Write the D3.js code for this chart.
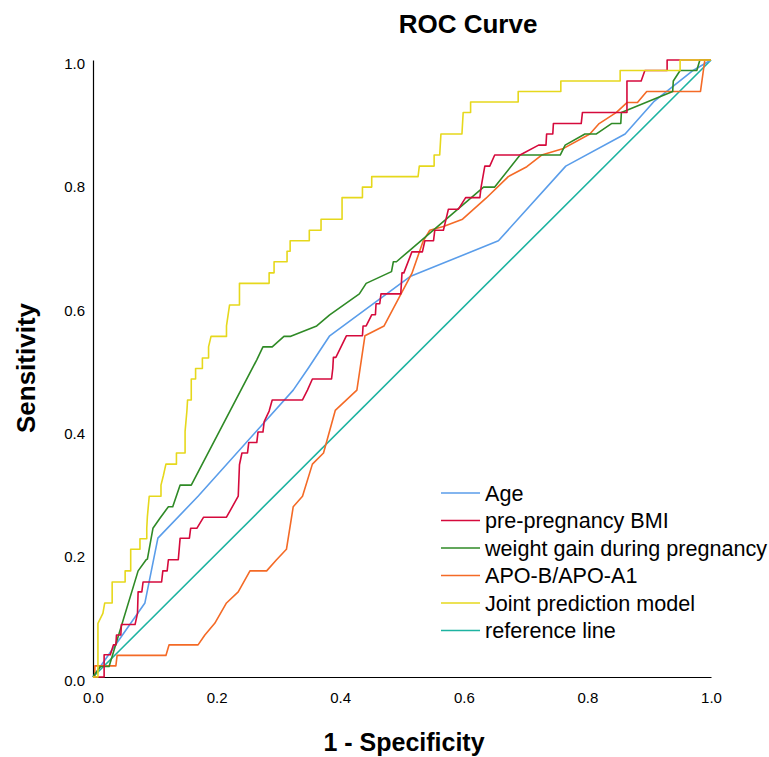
<!DOCTYPE html>
<html>
<head>
<meta charset="utf-8">
<script src="https://cdn.jsdelivr.net/npm/d3@7/dist/d3.min.js"></script>
<style>
  html, body { margin: 0; padding: 0; background: #fff; }
  svg { display: block; font-family: "Liberation Sans", Arial, Helvetica, sans-serif; }
</style>
</head>
<body>
<svg id="chart" width="769" height="757"></svg>
<script>
// ---- Data (1 - Specificity, Sensitivity) ----
const seriesNames = ["Age", "pre-pregnancy BMI", "weight gain during pregnancy", "APO-B/APO-A1", "Joint prediction model", "reference line"];
const seriesColors = ["#5a9dea", "#d50a3c", "#2f8a26", "#f46a26", "#e6d81c", "#1db3a1"];

const ageFpr = [0, 0.084, 0.105, 0.170, 0.324, 0.348, 0.383, 0.513, 0.656, 0.765, 0.861, 0.907, 0.971, 1];
const ageTpr = [0, 0.120, 0.225, 0.293, 0.465, 0.500, 0.553, 0.649, 0.707, 0.828, 0.880, 0.932, 0.983, 1];

const bmiFpr = [0, 0.018, 0.018, 0.028, 0.033, 0.037, 0.038, 0.045, 0.046, 0.068, 0.072, 0.073, 0.079, 0.081, 0.111, 0.113, 0.120, 0.122, 0.138, 0.141, 0.156, 0.158, 0.168, 0.179, 0.216, 0.235, 0.237, 0.241, 0.250, 0.252, 0.265, 0.267, 0.275, 0.277, 0.285, 0.290, 0.339, 0.347, 0.355, 0.386, 0.388, 0.389, 0.393, 0.410, 0.436, 0.437, 0.442, 0.451, 0.457, 0.458, 0.464, 0.466, 0.498, 0.500, 0.503, 0.516, 0.533, 0.537, 0.551, 0.553, 0.567, 0.575, 0.591, 0.603, 0.626, 0.628, 0.634, 0.642, 0.650, 0.691, 0.721, 0.733, 0.734, 0.744, 0.745, 0.790, 0.792, 0.864, 0.864, 0.887, 0.893, 0.929, 0.929, 1];
const bmiTpr = [0, 0, 0.036, 0.036, 0.052, 0.052, 0.068, 0.068, 0.085, 0.085, 0.103, 0.138, 0.138, 0.154, 0.154, 0.172, 0.172, 0.190, 0.190, 0.225, 0.225, 0.241, 0.241, 0.259, 0.259, 0.293, 0.344, 0.363, 0.363, 0.380, 0.380, 0.397, 0.397, 0.414, 0.431, 0.449, 0.449, 0.465, 0.483, 0.483, 0.500, 0.518, 0.518, 0.553, 0.553, 0.569, 0.569, 0.587, 0.587, 0.605, 0.605, 0.621, 0.621, 0.655, 0.655, 0.689, 0.689, 0.707, 0.707, 0.724, 0.724, 0.758, 0.758, 0.777, 0.777, 0.794, 0.828, 0.828, 0.846, 0.846, 0.862, 0.862, 0.880, 0.880, 0.897, 0.897, 0.915, 0.915, 0.966, 0.966, 0.983, 0.983, 1.0, 1];

const weightFpr = [0, 0.012, 0.026, 0.073, 0.086, 0.088, 0.097, 0.108, 0.122, 0.129, 0.141, 0.159, 0.265, 0.275, 0.290, 0.309, 0.319, 0.362, 0.383, 0.431, 0.442, 0.483, 0.486, 0.491, 0.513, 0.632, 0.650, 0.691, 0.756, 0.764, 0.796, 0.814, 0.839, 0.854, 0.855, 0.938, 0.939, 0.950, 0.977, 0.982, 1];
const weightTpr = [0, 0.017, 0.017, 0.172, 0.190, 0.191, 0.241, 0.257, 0.276, 0.276, 0.311, 0.311, 0.514, 0.535, 0.535, 0.552, 0.552, 0.569, 0.587, 0.621, 0.638, 0.657, 0.673, 0.673, 0.692, 0.794, 0.794, 0.846, 0.846, 0.862, 0.880, 0.880, 0.897, 0.897, 0.915, 0.949, 0.966, 0.983, 0.983, 1.0, 1];

const apoFpr = [0, 0.003, 0.003, 0.037, 0.039, 0.118, 0.123, 0.170, 0.181, 0.197, 0.216, 0.235, 0.254, 0.281, 0.297, 0.313, 0.324, 0.339, 0.355, 0.373, 0.392, 0.427, 0.440, 0.471, 0.516, 0.534, 0.545, 0.567, 0.598, 0.636, 0.672, 0.702, 0.726, 0.760, 0.804, 0.819, 0.847, 0.864, 0.881, 0.896, 0.983, 0.990, 1];
const apoTpr = [0, 0, 0.018, 0.018, 0.035, 0.035, 0.052, 0.052, 0.068, 0.087, 0.120, 0.138, 0.172, 0.172, 0.190, 0.207, 0.276, 0.293, 0.345, 0.363, 0.432, 0.465, 0.553, 0.569, 0.654, 0.706, 0.724, 0.730, 0.742, 0.776, 0.811, 0.827, 0.846, 0.856, 0.880, 0.897, 0.915, 0.931, 0.931, 0.949, 0.949, 1.0, 1];

const jointFpr = [0, 0.008, 0.008, 0.016, 0.019, 0.031, 0.031, 0.052, 0.052, 0.061, 0.061, 0.076, 0.076, 0.087, 0.087, 0.088, 0.091, 0.110, 0.110, 0.114, 0.118, 0.135, 0.135, 0.149, 0.149, 0.152, 0.153, 0.159, 0.159, 0.166, 0.166, 0.177, 0.177, 0.187, 0.187, 0.191, 0.216, 0.216, 0.221, 0.237, 0.237, 0.285, 0.285, 0.293, 0.293, 0.314, 0.314, 0.319, 0.319, 0.350, 0.350, 0.369, 0.369, 0.403, 0.403, 0.436, 0.436, 0.451, 0.451, 0.526, 0.528, 0.552, 0.552, 0.561, 0.563, 0.597, 0.599, 0.611, 0.611, 0.688, 0.688, 0.757, 0.757, 0.853, 0.853, 0.950, 0.950, 1];
const jointTpr = [0, 0, 0.087, 0.103, 0.120, 0.120, 0.154, 0.154, 0.172, 0.172, 0.207, 0.207, 0.224, 0.224, 0.241, 0.260, 0.293, 0.293, 0.311, 0.327, 0.345, 0.345, 0.363, 0.363, 0.398, 0.432, 0.449, 0.449, 0.483, 0.483, 0.500, 0.500, 0.517, 0.517, 0.535, 0.552, 0.552, 0.569, 0.603, 0.603, 0.638, 0.638, 0.655, 0.655, 0.673, 0.673, 0.690, 0.690, 0.707, 0.707, 0.724, 0.724, 0.742, 0.742, 0.777, 0.777, 0.794, 0.794, 0.811, 0.811, 0.828, 0.828, 0.846, 0.846, 0.880, 0.880, 0.915, 0.915, 0.932, 0.932, 0.949, 0.949, 0.966, 0.966, 0.983, 0.983, 1.0, 1];

const refFpr = [0, 1];
const refTpr = [0, 1];

const tickValues = [0, 0.2, 0.4, 0.6, 0.8, 1.0];

// ---- Drawing ----
const svg = d3.select("#chart");
const x = d3.scaleLinear().domain([0, 1]).range([93, 711]);
const y = d3.scaleLinear().domain([0, 1]).range([677, 60]);

const series = [
  [ageFpr, ageTpr], [bmiFpr, bmiTpr], [weightFpr, weightTpr],
  [apoFpr, apoTpr], [jointFpr, jointTpr], [refFpr, refTpr]
].map((s, i) => ({ name: seriesNames[i], color: seriesColors[i], pts: s[0].map((v, j) => [v, s[1][j]]) }));

// axes
const xAxis = svg.append("g").attr("transform", "translate(0,677)")
  .call(d3.axisBottom(x).tickValues(tickValues).tickFormat(d3.format(".1f")).tickSize(0));
xAxis.select(".domain").attr("stroke", "#000").attr("stroke-width", 1.2);
xAxis.selectAll("text").attr("y", 21).attr("dy", "0.35em")
  .attr("font-size", 15).attr("fill", "#000")
  .attr("font-family", "'Liberation Sans', Arial, Helvetica, sans-serif");

const yAxis = svg.append("g").attr("transform", "translate(93,0)")
  .call(d3.axisLeft(y).tickValues(tickValues).tickFormat(d3.format(".1f")).tickSize(0));
yAxis.select(".domain").attr("stroke", "#000").attr("stroke-width", 1.2);
yAxis.selectAll("text").attr("x", -8).attr("y", 3).attr("dy", "0.35em")
  .attr("font-size", 15).attr("fill", "#000")
  .attr("font-family", "'Liberation Sans', Arial, Helvetica, sans-serif");

// curves (reference line drawn first, underneath)
const line = d3.line().x(d => x(d[0])).y(d => y(d[1]));
const drawOrder = [5, 0, 3, 2, 1, 4];
drawOrder.forEach(i => {
  svg.append("path")
    .datum(series[i].pts)
    .attr("fill", "none")
    .attr("stroke", series[i].color)
    .attr("stroke-width", 1.6)
    .attr("stroke-linejoin", "round")
    .attr("d", line);
});

// title & axis titles
svg.append("text").attr("x", 468).attr("y", 24).attr("dy", "0.35em")
  .attr("text-anchor", "middle").attr("font-weight", "bold").attr("font-size", 26)
  .text("ROC Curve");
svg.append("text").attr("x", 404).attr("y", 751)
  .attr("text-anchor", "middle").attr("font-weight", "bold").attr("font-size", 25)
  .text("1 - Specificity");
svg.append("text").attr("transform", "translate(26,368) rotate(-90)").attr("dy", "0.35em")
  .attr("text-anchor", "middle").attr("font-weight", "bold").attr("font-size", 26)
  .text("Sensitivity");

// legend
const legend = svg.append("g");
series.forEach((s, i) => {
  const ly = 493 + i * 27.5;
  legend.append("line").attr("x1", 441).attr("x2", 480).attr("y1", ly).attr("y2", ly)
    .attr("stroke", s.color).attr("stroke-width", 1.6);
  legend.append("text").attr("x", 485).attr("y", ly).attr("dy", "0.35em")
    .attr("font-size", 21.6).attr("fill", "#000").text(s.name);
});
</script>
</body>
</html>
